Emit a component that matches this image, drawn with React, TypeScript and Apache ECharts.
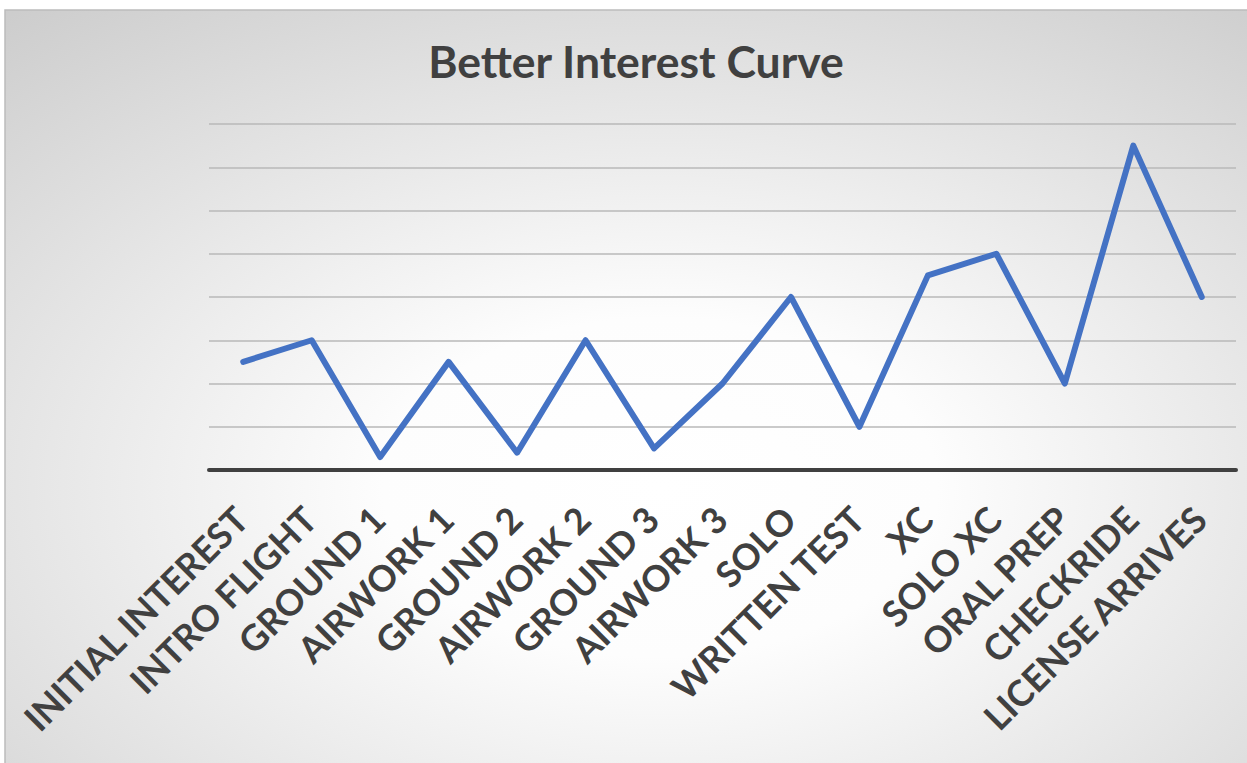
import React, { useEffect, useRef } from "react";
import * as echarts from "echarts";

// Training stages along the x axis
const stages = [
  "INITIAL INTEREST",
  "INTRO FLIGHT",
  "GROUND 1",
  "AIRWORK 1",
  "GROUND 2",
  "AIRWORK 2",
  "GROUND 3",
  "AIRWORK 3",
  "SOLO",
  "WRITTEN TEST",
  "XC",
  "SOLO XC",
  "ORAL PREP",
  "CHECKRIDE",
  "LICENSE ARRIVES",
];

// Interest level at each stage
const interest = [2.5, 3, 0.3, 2.5, 0.4, 3, 0.5, 2, 4, 1, 4.5, 5, 2, 7.5, 4];

// Value axis range (gridlines only, no labels)
const yMin = 0;
const yMax = 8;
const yStep = 1;

export default function App() {
  const ref = useRef<HTMLDivElement>(null);

  useEffect(() => {
    const el = ref.current;
    if (!el) return;
    const chart = echarts.init(el, null, { renderer: "svg" });
    chart.setOption({
      animation: false,
      backgroundColor: "#ffffff",
      graphic: [
        {
          type: "rect",
          z: -100,
          silent: true,
          shape: { x: 5, y: 10, width: 1260, height: 770 },
          style: {
            fill: new echarts.graphic.RadialGradient(0.52, 0.62, 1.0, [
              { offset: 0, color: "#ffffff" },
              { offset: 0.22, color: "#fdfdfd" },
              { offset: 0.85, color: "#c9c9c9" },
              { offset: 1, color: "#bfbfbf" },
            ]),
            stroke: "#bcbcbc",
            lineWidth: 1.5,
          },
        },
      ],
      title: {
        text: "Better Interest Curve",
        left: 631,
        top: 33,
        textAlign: "center",
        textStyle: {
          fontFamily: "Lato",
          fontWeight: "bold",
          fontSize: 44.5,
          color: "#404040",
        },
      },
      grid: {
        left: 209,
        right: 11,
        top: 124,
        bottom: 293,
        containLabel: false,
      },
      xAxis: {
        type: "category",
        data: stages,
        boundaryGap: true,
        axisLine: { show: true, lineStyle: { color: "#404040", width: 4 } },
        axisTick: { show: false },
        axisLabel: {
          interval: 0,
          rotate: 45,
          margin: 15,
          padding: [0, 21, 0, 0],
          align: "right",
          verticalAlign: "top",
          fontFamily: "Lato",
          fontWeight: "bold",
          fontSize: 36,
          color: "#404040",
        },
      },
      yAxis: {
        type: "value",
        min: yMin,
        max: yMax,
        interval: yStep,
        axisLine: { show: false },
        axisTick: { show: false },
        axisLabel: { show: false },
        splitLine: { show: true, lineStyle: { color: "#b8b8b8", width: 1.5 } },
      },
      series: [
        {
          type: "line",
          data: interest,
          symbol: "none",
          lineStyle: { color: "#4472C4", width: 6, cap: "round", join: "round" },
        },
      ],
    });
    return () => chart.dispose();
  }, []);

  return (
    <div
      ref={ref}
      style={{ position: "fixed", left: 0, top: 0, width: 1247, height: 763 }}
    />
  );
}
